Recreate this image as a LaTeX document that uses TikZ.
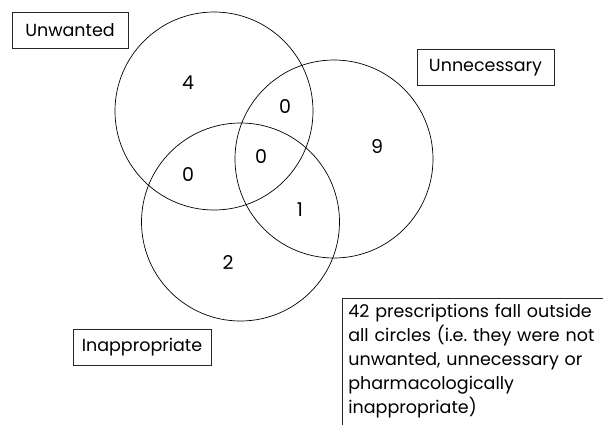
\documentclass[tikz,border=0pt]{standalone}
\usepackage{fontspec}
\setmainfont{Poppins}
\frenchspacing
\begin{document}
\begin{tikzpicture}[x=1pt,y=-1pt,
    set/.style={circle,draw,line width=0.7pt,minimum size=198pt,inner sep=0pt},
    tag/.style={draw=black!85,line width=0.7pt,minimum height=36pt,inner sep=0pt,
      font=\fontsize{17.5}{20}\selectfont},
    count/.style={font=\fontsize{19}{22}\selectfont}]
  \useasboundingbox (0,0) rectangle (603,424);
  \clip (0,0) rectangle (603,424);

  % The three circles
  \node [set] (unwanted) at (214,111) {};
  \node [set] (unnecessary) at (334,159) {};
  \node [set] (inappropriate) at (240.5,222) {};

  % Counts in each region
  \node [count] (onlyunwanted) at (188,83) {4};
  \node [count] (wantednec) at (285,107) {0};
  \node [count] (onlyunnecessary) at (377,147) {9};
  \node [count] (wantedinap) at (188,175) {0};
  \node [count] (allthree) at (261,157) {0};
  \node [count] (necinap) at (300,210) {1};
  \node [count] (onlyinappropriate) at (228,263) {2};

  % Labels of the circles
  \node [tag,minimum width=116pt] (unwantedtag) at (70,30) {Unwanted};
  \node [tag,minimum width=137pt] (unnecessarytag) at (485.5,67.5) {Unnecessary};
  \node [tag,minimum width=138pt] (inappropriatetag) at (142,347) {Inappropriate};

  % Note about the rest
  \node [draw=black!85,line width=0.7pt,anchor=north west,text width=262pt,
    inner xsep=6pt,inner ysep=6pt,text depth=140pt,align=left,
    font=\fontsize{17.5}{24}\selectfont] (note) at (342,298)
    {42 prescriptions fall outside\\ all circles (i.e. they were not\\ unwanted, unnecessary or\\
     pharmacologically\\ inappropriate)};
\end{tikzpicture}
\end{document}
